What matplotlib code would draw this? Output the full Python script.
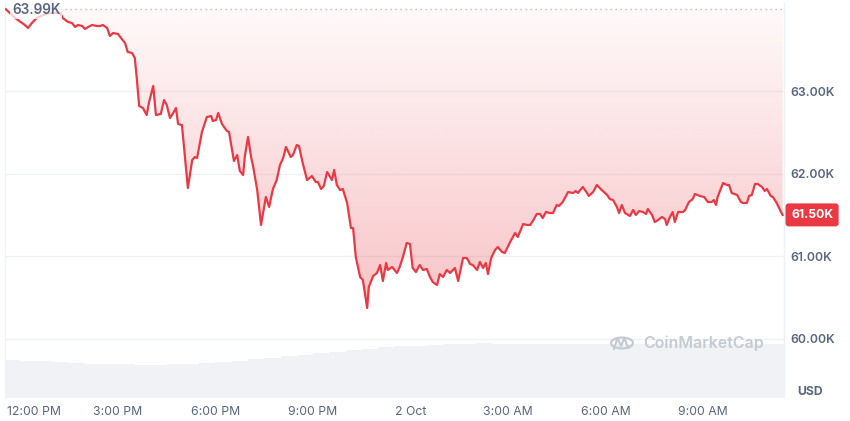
import numpy as np
import pandas as pd
import matplotlib
matplotlib.use("Agg")
import matplotlib.pyplot as plt
import matplotlib.dates as mdates
import matplotlib.transforms as mtransforms
from matplotlib.patches import Circle
from matplotlib.lines import Line2D

plt.rcParams['font.family'] = ['Inter', 'DejaVu Sans']

# BTC / USD, 1 Oct 2024 11:30 -> 2 Oct 2024 11:30 (minutes after start, price in USD)
minutes = [3, 20, 38, 44, 51, 60, 72, 84, 94, 103, 108, 118, 125, 131, 136, 144, 149, 155,
           162, 171, 177, 182, 190, 195, 201, 210, 217, 223, 228, 236, 241, 245, 249, 256,
           263, 267, 275, 280, 289, 295, 300, 306, 312, 317, 321, 328, 339, 347, 352, 356,
           365, 374, 382, 385, 391, 395, 402, 411, 415, 424, 430, 435, 441, 444, 450, 456,
           459, 467, 474, 483, 489, 496, 503, 509, 515, 520, 529, 533, 540, 544, 551, 559,
           568, 575, 579, 585, 590, 596, 605, 609, 614, 620, 625, 633, 640, 644, 649, 657,
           662, 670, 673, 681, 688, 694, 699, 705, 708, 716, 725, 730, 736, 743, 749, 754,
           760, 767, 773, 780, 786, 791, 799, 804, 810, 817, 823, 832, 838, 847, 854, 860,
           865, 873, 878, 884, 889, 893, 899, 906, 911, 919, 924, 934, 943, 948, 958, 965,
           971, 978, 983, 989, 994, 1000, 1007, 1013, 1020, 1024, 1031, 1041, 1050, 1055,
           1059, 1068, 1076, 1079, 1087, 1094, 1103, 1113, 1118, 1124, 1131, 1135, 1140,
           1146, 1155, 1161, 1166, 1172, 1179, 1185, 1188, 1196, 1201, 1207, 1214, 1220,
           1223, 1229, 1234, 1238, 1244, 1253, 1257, 1264, 1271, 1275, 1284, 1292, 1299,
           1306, 1310, 1314, 1317, 1327, 1334, 1338, 1343, 1353, 1360, 1364, 1371, 1375,
           1380, 1386, 1391, 1399, 1404, 1408, 1415, 1419, 1426, 1434, 1437]
price = [63990, 63884, 63799, 63763, 63823, 63884, 63920, 63944, 63948, 63948, 63884, 63835,
         63823, 63775, 63799, 63787, 63751, 63775, 63799, 63787, 63787, 63799, 63763, 63666,
         63702, 63690, 63630, 63581, 63472, 63460, 63400, 63133, 62818, 62794, 62709, 62855,
         63061, 62709, 62722, 62891, 62831, 62673, 62734, 62794, 62600, 62588, 61826, 62165,
         62201, 62189, 62504, 62685, 62697, 62637, 62649, 62734, 62600, 62516, 62504, 62153,
         62225, 62031, 61983, 62201, 62443, 62189, 62104, 61801, 61378, 61717, 61596, 61814,
         61922, 62104, 62189, 62322, 62201, 62225, 62346, 62334, 62128, 61922, 61971, 61898,
         61898, 61814, 61850, 62019, 61922, 62044, 61862, 61801, 61814, 61644, 61341, 61341,
         60990, 60748, 60712, 60373, 60627, 60760, 60797, 60893, 60700, 60918, 60833, 60869,
         60797, 60869, 60990, 61160, 61148, 60857, 60809, 60893, 60833, 60845, 60748, 60688,
         60651, 60784, 60748, 60833, 60797, 60857, 60700, 60978, 60978, 60905, 60893, 60833,
         60930, 60857, 60918, 60784, 60978, 61075, 61111, 61051, 61039, 61172, 61281, 61232,
         61390, 61378, 61378, 61450, 61511, 61511, 61462, 61535, 61523, 61523, 61620, 61608,
         61656, 61777, 61765, 61789, 61765, 61838, 61765, 61729, 61777, 61862, 61801, 61741,
         61692, 61680, 61596, 61523, 61620, 61523, 61487, 61559, 61499, 61547, 61535, 61511,
         61571, 61499, 61414, 61438, 61475, 61450, 61378, 61475, 61535, 61414, 61535, 61535,
         61559, 61656, 61692, 61753, 61729, 61717, 61656, 61656, 61680, 61620, 61717, 61886,
         61862, 61862, 61765, 61741, 61656, 61644, 61644, 61729, 61741, 61874, 61874, 61838,
         61789, 61814, 61729, 61717, 61644, 61535, 61500]

# 24h volume (billions USD), one bar per 30 minutes
volume = [28.5, 28.1, 27.8, 27.0, 26.3, 25.9, 25.5, 25.5, 25.1, 25.1, 25.5, 25.9,
          26.6, 27.4, 28.1, 29.3, 30.4, 31.5, 32.6, 33.8, 34.9, 36.0, 37.1, 38.3,
          39.0, 39.4, 39.8, 40.5, 40.9, 41.3, 40.9, 40.9, 40.9, 40.9, 40.9, 40.9,
          40.9, 40.9, 40.9, 40.9, 40.9, 40.5, 40.5, 40.5, 40.5, 40.5, 40.5, 40.5]

open_price = 63990
last_price = 61500
y_ticks = [60000, 61000, 62000, 63000]
y_labels = ['60.00K', '61.00K', '62.00K', '63.00K']
x_tick_times = ['2024-10-01 12:00', '2024-10-01 15:00', '2024-10-01 18:00', '2024-10-01 21:00',
                '2024-10-02 00:00', '2024-10-02 03:00', '2024-10-02 06:00', '2024-10-02 09:00']
x_labels = ['12:00 PM', '3:00 PM', '6:00 PM', '9:00 PM', '2 Oct', '3:00 AM', '6:00 AM', '9:00 AM']

start = pd.Timestamp('2024-10-01 11:30')
times = start + pd.to_timedelta(minutes, unit='min')
vol_times = start + pd.to_timedelta(np.arange(len(volume)) * 30, unit='min')

red = '#ea3943'
grey_txt = '#58667e'

fig = plt.figure(figsize=(8.5, 4.21), dpi=100)
W, H = 850, 421
rect = [5 / W, (H - 398) / H, 779 / W, 396 / H]

# volume axis in the back
axv = fig.add_axes(rect, zorder=0)
axv.bar(vol_times, volume, width=30 / 1440, align='edge', color='#f0f2f5', edgecolor='none')
axv.set_ylim(0, 41.3 * 396 / 55)
axv.axis('off')

ax = fig.add_axes(rect, zorder=1, sharex=axv)
ax.set_facecolor('none')

# gradient fill between price and open line
tnum = mdates.date2num(times)
poly = ax.fill_between(times, price, open_price, facecolor='none', edgecolor='none')
clip = poly.get_paths()[0]
grad = np.zeros((256, 1, 4))
grad[:, 0, :3] = matplotlib.colors.to_rgb(red)
grad[:, 0, 3] = np.linspace(0.30, 0.03, 256)
im = ax.imshow(grad, extent=[tnum[0], tnum[-1], min(price), open_price],
               aspect='auto', origin='lower', zorder=1)
im.set_clip_path(clip, transform=ax.transData)

ax.plot(times, price, color=red, lw=1.6, zorder=3, solid_joinstyle='round')
ax.axhline(open_price, color='#a3abb8', lw=0.9, linestyle=(0, (1, 3)), zorder=2)
for yv in y_ticks:
    ax.axhline(yv, color='#eff2f5', lw=1, zorder=0.5)

ax.set_xlim(start + pd.Timedelta(minutes=1.4), start + pd.Timedelta(minutes=1439.5))
ax.set_ylim(63000 - 307 * 12.107, 63000 + 89 * 12.107)

ax.yaxis.tick_right()
ax.set_yticks(y_ticks)
ax.set_yticklabels(y_labels)
ax.set_xticks(pd.to_datetime(x_tick_times))
ax.set_xticklabels(x_labels)
ax.tick_params(axis='y', length=0, pad=4.5, labelsize=8.8, labelcolor=grey_txt)
ax.tick_params(axis='x', length=0, pad=6, labelsize=8.8, labelcolor=grey_txt)
for lab in ax.get_yticklabels():
    lab.set_fontweight('semibold')

for side in ['top', 'bottom']:
    ax.spines[side].set_visible(False)
for side in ['left', 'right']:
    ax.spines[side].set_color('#eff2f5')
    ax.spines[side].set_linewidth(1)

# shift first x label so it is not cut off
first = ax.get_xticklabels()[0]
first.set_transform(first.get_transform() + mtransforms.ScaledTranslation(0.135, 0, fig.dpi_scale_trans))

# last price tag
tag_tr = mtransforms.blended_transform_factory(ax.transAxes, ax.transData)
ax.text(1.0, last_price, '61.50K', transform=tag_tr + mtransforms.ScaledTranslation(0.07, 0, fig.dpi_scale_trans),
        ha='left', va='center', color='white', fontsize=8.8, fontweight='bold',
        bbox=dict(boxstyle='round,pad=0.45,rounding_size=0.25', facecolor=red, edgecolor='none'),
        clip_on=False, zorder=5)

# open price label
fig.text(12 / W, 1 - 10 / H, '63.99K', ha='left', va='center', color=grey_txt, fontsize=9.8,
         fontweight='semibold', bbox=dict(boxstyle='square,pad=0.12', facecolor='white', edgecolor='none', alpha=0.75))

fig.text(797 / W, 1 - 392 / H, 'USD', ha='left', va='center', color=grey_txt, fontsize=8.8, fontweight='bold')

# watermark
wm = '#c5cad3'
fig.text(643 / W, 1 - 343 / H, 'CoinMarketCap', ha='left', va='center', color=wm, fontsize=11.5, fontweight='semibold')
fig.patches.append(Circle((622 / W, 1 - 343 / H), 11 / W, transform=fig.transFigure, fill=False,
                          edgecolor=wm, lw=1.6, zorder=3))
zx = np.array([614, 617.5, 621, 624.5, 628, 630]) / W
zy = 1 - np.array([349, 338, 346, 338, 348, 346]) / H
fig.lines.append(Line2D(zx, zy, transform=fig.transFigure, color=wm, lw=1.6, zorder=3))

fig.savefig('out.png', dpi=100)
